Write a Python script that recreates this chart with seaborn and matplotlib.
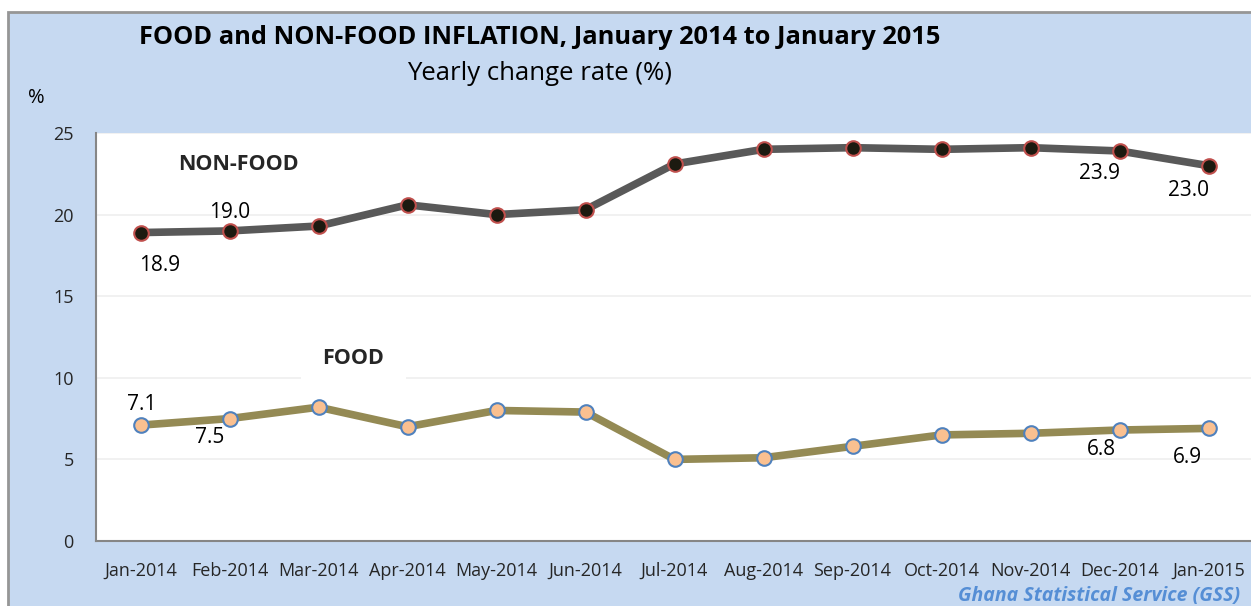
import numpy as np
import pandas as pd
import matplotlib
matplotlib.use("Agg")
import matplotlib.pyplot as plt
from matplotlib.patches import Rectangle
import seaborn as sns

months = ["Jan-2014", "Feb-2014", "Mar-2014", "Apr-2014", "May-2014", "Jun-2014",
          "Jul-2014", "Aug-2014", "Sep-2014", "Oct-2014", "Nov-2014", "Dec-2014", "Jan-2015"]
non_food = [18.9, 19.0, 19.3, 20.6, 20.0, 20.3, 23.1, 24.0, 24.1, 24.0, 24.1, 23.9, 23.0]
food = [7.1, 7.5, 8.2, 7.0, 8.0, 7.9, 5.0, 5.1, 5.8, 6.5, 6.6, 6.8, 6.9]
y_ticks = [0, 5, 10, 15, 20, 25]

df = pd.DataFrame({"month": months, "NON-FOOD": non_food, "FOOD": food})
df["pos"] = np.arange(len(months))

sns.set_style("white")
plt.rcParams["font.family"] = ["Open Sans", "DejaVu Sans"]

fig = plt.figure(figsize=(12.51, 6.06), dpi=100)
fig.patch.set_facecolor("white")
panel = Rectangle((8 / 1251, -0.01), 1.0, (606 - 12) / 606 + 0.01, transform=fig.transFigure,
                  facecolor="#C6D9F1", edgecolor="#969696", linewidth=2, zorder=-10)
fig.add_artist(panel)

ax = fig.add_axes([96 / 1251, 65 / 606, 1157 / 1251, 408 / 606])
ax.set_facecolor("white")

sns.lineplot(data=df, x="pos", y="NON-FOOD", ax=ax, color="#595959", linewidth=5.5,
             marker="o", markersize=10.5, markerfacecolor="#1C1A10",
             markeredgecolor="#C0504D", markeredgewidth=1.5, sort=False, zorder=3)
sns.lineplot(data=df, x="pos", y="FOOD", ax=ax, color="#948A54", linewidth=5.5,
             marker="o", markersize=10.5, markerfacecolor="#FAC090",
             markeredgecolor="#4F81BD", markeredgewidth=1.5, sort=False, zorder=3)

ax.set_xlim(-0.5, len(months) - 0.5)
ax.set_ylim(0, 25)
ax.set_yticks(y_ticks)
ax.set_yticklabels([str(v) for v in y_ticks], fontsize=13)
ax.set_xticks(df["pos"])
ax.set_xticklabels(months, fontsize=13)
ax.set_xticks(np.arange(len(months) + 1) - 0.5, minor=True)
ax.tick_params(axis="x", which="major", length=0, pad=15)
ax.tick_params(axis="x", which="minor", length=6, color="#868686", width=1.2, direction="out")
ax.tick_params(axis="y", length=6, color="#868686", width=1.2, direction="out", pad=10)
ax.set_xlabel("")
ax.set_ylabel("")
ax.yaxis.grid(True, color="#EFEFEF", linewidth=1.2)
ax.set_axisbelow(True)
for s in ["top", "right"]:
    ax.spines[s].set_visible(False)
for s in ["left", "bottom"]:
    ax.spines[s].set_color("#868686")
    ax.spines[s].set_linewidth(1.5)

# data labels (offsets in pixels)
label_pts = [
    ("NON-FOOD", 0, 19, -33), ("NON-FOOD", 1, 0, 18),
    ("NON-FOOD", 11, -20, -23), ("NON-FOOD", 12, -20, -25),
    ("FOOD", 0, 1, 21), ("FOOD", 1, -20, -19),
    ("FOOD", 11, -18, -19), ("FOOD", 12, -21, -29),
]
for col, i, dx, dy in label_pts:
    v = df[col].iloc[i]
    ax.annotate(f"{v:.1f}", (df["pos"].iloc[i], v), xytext=(dx, dy),
                textcoords="offset pixels", ha="center", va="center",
                fontsize=15, color="black", zorder=5)

ax.text(1.095, 23.04, "NON-FOOD", ha="center", va="center", fontsize=15.5,
        fontweight="bold", color="#262626", zorder=5)
ax.text(2.39, 11.2, "FOOD", ha="center", va="center", fontsize=15.5,
        fontweight="bold", color="#262626", zorder=5,
        bbox=dict(boxstyle="square,pad=1.0", facecolor="white", edgecolor="none"))

fig.text(540 / 1251, 1 - 37 / 606, "FOOD and NON-FOOD INFLATION, January 2014 to January 2015",
         ha="center", va="center", fontsize=18.3, fontweight="bold", color="black")
fig.text(540 / 1251, 1 - 73 / 606, "Yearly change rate (%)", ha="center", va="center",
         fontsize=18.5, color="black")
fig.text(36 / 1251, 1 - 98 / 606, "%", ha="center", va="center", fontsize=14.5, color="black")
fig.text(1240 / 1251, 1 - 596 / 606, "Ghana Statistical Service (GSS)", ha="right", va="center",
         fontsize=14, fontweight="bold", fontstyle="italic", color="#558ED5")

fig.savefig("out.png", dpi=100)
